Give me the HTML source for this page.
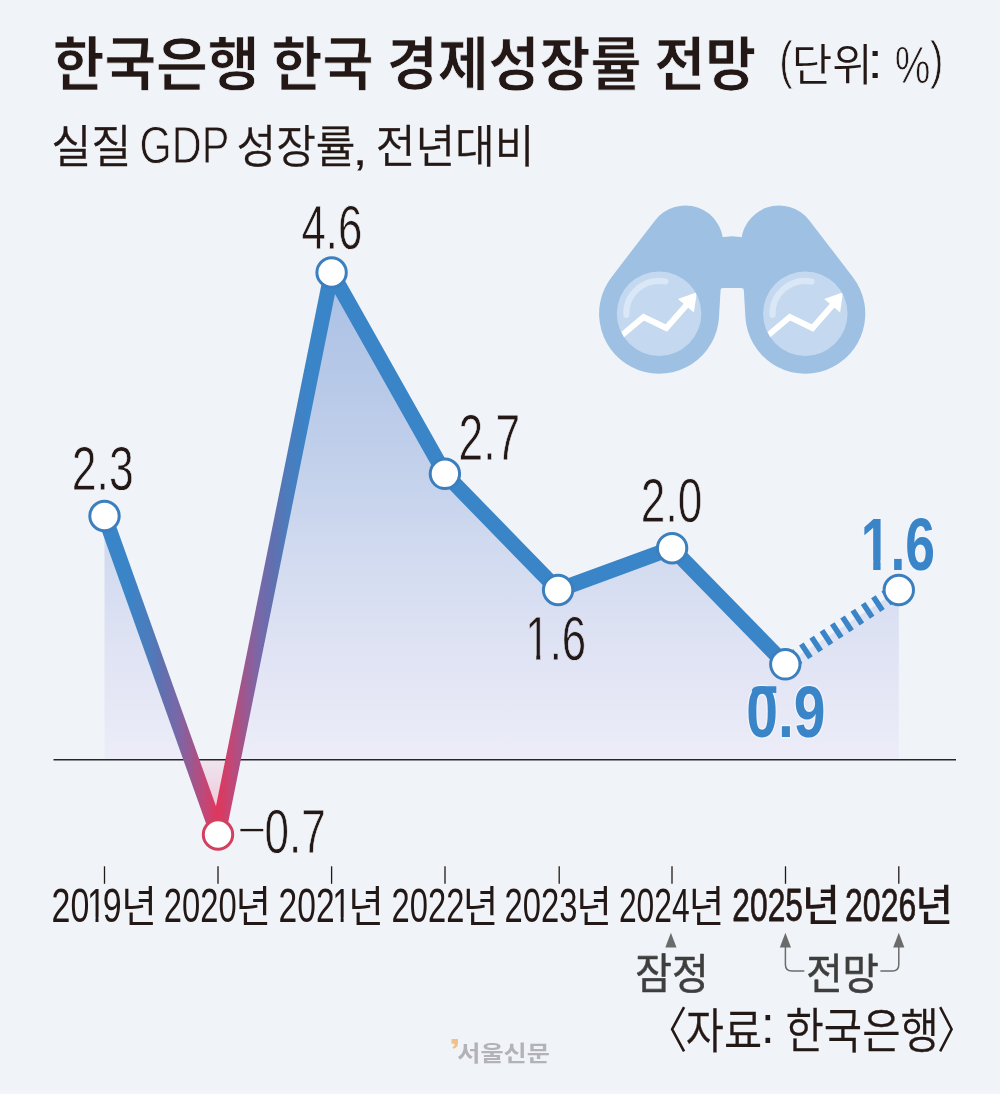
<!DOCTYPE html>
<html lang="ko"><head><meta charset="utf-8"><title>한국은행 한국 경제성장률 전망</title>
<style>html,body{margin:0;padding:0;background:#f0f4f8}body{width:1000px;height:1094px;overflow:hidden;font-family:"Liberation Sans","Noto Sans CJK KR",sans-serif}</style>
</head><body>
<svg role="img" width="1000" height="1094" viewBox="0 0 1000 1094" font-family='"Liberation Sans","Noto Sans CJK KR",sans-serif' font-size="100" style="display:block;will-change:transform">
<title>한국은행 한국 경제성장률 전망 (단위: %)</title>
<desc>실질 GDP 성장률, 전년대비. 2019년 2.3, 2020년 −0.7, 2021년 4.6, 2022년 2.7, 2023년 1.6, 2024년 2.0 (잠정), 2025년 0.9 (전망), 2026년 1.6 (전망). 〈자료: 한국은행〉 서울신문</desc>
<defs>
<linearGradient id="ga" gradientUnits="userSpaceOnUse" x1="0" y1="272" x2="0" y2="759.7">
<stop offset="0" stop-color="#aac0e5"/><stop offset="0.35" stop-color="#bfceea"/><stop offset="0.55" stop-color="#cfd9ef"/><stop offset="0.68" stop-color="#d9dff2"/><stop offset="0.85" stop-color="#e4e6f5"/><stop offset="1" stop-color="#ecedf8"/>
</linearGradient>
<linearGradient id="gn" gradientUnits="userSpaceOnUse" x1="0" y1="759.7" x2="0" y2="820">
<stop offset="0" stop-color="#eee5ef"/><stop offset="1" stop-color="#efc3d5"/>
</linearGradient>
<linearGradient id="gl" gradientUnits="userSpaceOnUse" x1="104.5" y1="0" x2="331.6" y2="0">
<stop offset="0" stop-color="#3a84c8"/><stop offset="0.104" stop-color="#3a84c8"/><stop offset="0.196" stop-color="#4c7cbc"/><stop offset="0.253" stop-color="#6070b0"/><stop offset="0.32" stop-color="#7868a8"/><stop offset="0.381" stop-color="#9a5890"/><stop offset="0.438" stop-color="#c04878"/><stop offset="0.5" stop-color="#e0365c"/>
<stop offset="0.562" stop-color="#c04878"/><stop offset="0.619" stop-color="#9a5890"/><stop offset="0.68" stop-color="#7868a8"/><stop offset="0.747" stop-color="#6070b0"/><stop offset="0.804" stop-color="#4c7cbc"/><stop offset="0.896" stop-color="#3a84c8"/><stop offset="1" stop-color="#3a84c8"/>
</linearGradient>
<clipPath id="c0"><path clip-rule="evenodd" d="M-50,-120H600V60H-50ZM3.62,-8.37H25.15V6H3.62ZM33.98,-8.37H54.73V6H33.98Z"/></clipPath><clipPath id="c1"><path clip-rule="evenodd" d="M-50,-120H600V60H-50ZM2.30,-12.61H23.34V6H2.30ZM37.06,-12.61H56.83V6H37.06Z"/></clipPath><clipPath id="c2"><path clip-rule="evenodd" d="M-50,-120H600V60H-50ZM107.65,-8.37H129.18V6H107.65ZM138.01,-8.37H158.76V6H138.01Z"/></clipPath><clipPath id="c3"><path clip-rule="evenodd" d="M-50,-120H600V60H-50ZM163.27,-8.37H184.80V6H163.27ZM193.62,-8.37H214.38V6H193.62Z"/></clipPath>
<clipPath id="lensL"><circle cx="659.1" cy="313.7" r="42.25"/></clipPath>
<clipPath id="lensR"><circle cx="805.3" cy="313.7" r="42.25"/></clipPath>
</defs>
<rect width="1000" height="1094" fill="#f0f4f8"/>
<rect y="1092.4" width="1000" height="1.6" fill="#f7f4f6"/>
<rect y="1090.5" width="1000" height="2" fill="#f2f4f8"/>

<polygon points="104.5,759.7 104.5,516.0 191.3,759.7" fill="url(#ga)"/>
<polygon points="233.1,759.7 331.6,272.5 444.9,473.8 558.1,590.0 672.1,548.2 785.3,664.3 898.8,590.0 898.8,759.7" fill="url(#ga)"/>
<polygon points="191.3,759.7 218.0,834.5 233.1,759.7" fill="url(#gn)"/>
<line x1="53.5" y1="759.7" x2="956" y2="759.7" stroke="#2b2424" stroke-width="1.6"/>
<line x1="104.5" y1="516" x2="218" y2="834.5" stroke="url(#gl)" stroke-width="15.2" />
<line x1="218" y1="834.5" x2="331.6" y2="272.5" stroke="url(#gl)" stroke-width="15.2" />
<polyline points="331.6,272.5 444.9,473.8 558.1,590.0 672.1,548.2 785.3,664.3" fill="none" stroke="#3a84c8" stroke-width="15.2" stroke-linejoin="round"/>
<line x1="785.3" y1="664.3" x2="898.8" y2="590" stroke="#3a84c8" stroke-width="16.5" stroke-dasharray="5.5 6.8" stroke-dashoffset="-9.55"/>
<circle cx="104.5" cy="516" r="14.7" fill="#fff" stroke="#3c7fbe" stroke-width="3.0"/>
<circle cx="218" cy="834.5" r="14.7" fill="#fff" stroke="#d33f5f" stroke-width="3.0"/>
<circle cx="331.6" cy="272.5" r="14.7" fill="#fff" stroke="#3c7fbe" stroke-width="3.0"/>
<circle cx="444.9" cy="473.8" r="14.7" fill="#fff" stroke="#3c7fbe" stroke-width="3.0"/>
<circle cx="558.1" cy="590" r="14.7" fill="#fff" stroke="#3c7fbe" stroke-width="3.0"/>
<circle cx="672.1" cy="548.2" r="14.7" fill="#fff" stroke="#3c7fbe" stroke-width="3.0"/>
<circle cx="785.3" cy="664.3" r="14.7" fill="#fff" stroke="#3c7fbe" stroke-width="3.0"/>
<circle cx="898.8" cy="590" r="14.7" fill="#fff" stroke="#3c7fbe" stroke-width="3.0"/>
<line x1="104.5" y1="866.3" x2="104.5" y2="883.8" stroke="#231815" stroke-width="1.3"/>
<line x1="218" y1="866.3" x2="218" y2="883.8" stroke="#231815" stroke-width="1.3"/>
<line x1="331.6" y1="866.3" x2="331.6" y2="883.8" stroke="#231815" stroke-width="1.3"/>
<line x1="445" y1="866.3" x2="445" y2="883.8" stroke="#231815" stroke-width="1.3"/>
<line x1="559.2" y1="866.3" x2="559.2" y2="883.8" stroke="#231815" stroke-width="1.3"/>
<line x1="672" y1="866.3" x2="672" y2="883.8" stroke="#231815" stroke-width="1.3"/>
<line x1="785.5" y1="866.3" x2="785.5" y2="883.8" stroke="#231815" stroke-width="1.3"/>
<line x1="898.8" y1="866.3" x2="898.8" y2="883.8" stroke="#231815" stroke-width="1.3"/>
<polygon points="670.9,932.8 665.3,947.5 676.5,947.5" fill="#6b6b6b"/>
<polygon points="785.4,932.8 779.8,947.5 791.0,947.5" fill="#6b6b6b"/>
<polygon points="898.8,932.8 893.1999999999999,947.5 904.4,947.5" fill="#6b6b6b"/>
<path d="M785.4,947 V964.4 Q785.4,970.9 791.9,970.9 H804.3" fill="none" stroke="#6b6b6b" stroke-width="1.5"/>
<path d="M898.8,947 V964.4 Q898.8,970.9 892.3,970.9 H880.4" fill="none" stroke="#6b6b6b" stroke-width="1.5"/>
<path d="M655.04,220.38 A38.0,38.0 0 0 1 723.14,245.70 L719.00,317.17 A60.0,60.0 0 1 1 611.48,277.19 Z" fill="#9ec0e2"/>
<path d="M741.26,245.70 A38.0,38.0 0 0 1 809.36,220.38 L852.92,277.19 A60.0,60.0 0 1 1 745.40,317.17 Z" fill="#9ec0e2"/>
<path d="M715,239 Q732.2,233.6 749,239 V288 H715 Z" fill="#9ec0e2"/>
<path d="M720.2,288 h3 a3,3 0 0 0 -3,3 z M743.6,288 h-3 a3,3 0 0 1 3,3 z" fill="#9ec0e2"/>
<circle cx="659.1" cy="313.7" r="42.25" fill="#c4d9ef"/><path d="M626.32,314.84 A32.8,32.8 0 0 1 665.36,281.50" fill="none" stroke="#d9e7f6" stroke-width="6.2" stroke-linecap="round"/><g clip-path="url(#lensL)"><polyline points="618.00,338.6 643.60,317 666.30,328 687.00,304.5" fill="none" stroke="#fff" stroke-width="5.9" stroke-linejoin="miter"/><polygon points="696.85,292.25 678.00,299.1 693.90,312.4" fill="#fff"/></g>
<circle cx="805.3" cy="313.7" r="42.25" fill="#c4d9ef"/><path d="M772.52,314.84 A32.8,32.8 0 0 1 811.56,281.50" fill="none" stroke="#d9e7f6" stroke-width="6.2" stroke-linecap="round"/><g clip-path="url(#lensR)"><polyline points="764.20,338.6 789.80,317 812.50,328 833.20,304.5" fill="none" stroke="#fff" stroke-width="5.9" stroke-linejoin="miter"/><polygon points="843.05,292.25 824.20,299.1 840.10,312.4" fill="#fff"/></g>
<path d="M451.5,1039 h6.5 v4.2 q0,4.2 -4.8,5.6 l-0.8,-1.6 q2.4,-1 2.4,-3.4 h-3.3 z" fill="#f0c189"/>
<text transform="matrix(0.5621 0 0 0.5761 52.69 84.82)" font-weight="700" fill="#231815" stroke="#f0f4f8" stroke-width="1.3">한국은행</text>
<text transform="matrix(0.5546 0 0 0.5761 271.48 84.82)" font-weight="700" fill="#231815" stroke="#f0f4f8" stroke-width="1.3">한국</text>
<text transform="matrix(0.5540 0 0 0.5761 386.68 84.82)" font-weight="700" fill="#231815" stroke="#f0f4f8" stroke-width="1.3">경제성장률</text>
<text transform="matrix(0.5540 0 0 0.5761 654.23 84.82)" font-weight="700" fill="#231815" stroke="#f0f4f8" stroke-width="1.3">전망</text>
<text transform="matrix(0.4022 0 0 0.5163 779.18 78.42)" font-weight="350" fill="#231815" stroke="#f0f4f8" stroke-width="1.6">(</text>
<text transform="matrix(0.4394 0 0 0.4473 791.86 81.02)" font-weight="350" fill="#231815" >단위</text>
<text transform="matrix(0.5500 0 0 0.5047 867.55 78.00)" font-weight="350" fill="#231815" >:</text>
<text transform="matrix(0.4012 0 0 0.5221 894.65 82.50)" font-weight="350" fill="#231815" stroke="#f0f4f8" stroke-width="1.6">%</text>
<text transform="matrix(0.4022 0 0 0.5163 930.04 78.42)" font-weight="350" fill="#231815" stroke="#f0f4f8" stroke-width="1.6">)</text>
<text transform="matrix(0.4360 0 0 0.4516 51.13 162.54)" font-weight="350" fill="#231815" stroke="#231815" stroke-width="0.7">실질</text>
<text transform="matrix(0.4146 0 0 0.5130 139.51 163.40)" font-weight="350" fill="#231815" stroke="#f0f4f8" stroke-width="1.6">GDP</text>
<text transform="matrix(0.4310 0 0 0.4516 236.59 162.54)" font-weight="350" fill="#231815" stroke="#231815" stroke-width="0.7">성장률</text>
<text transform="matrix(0.5600 0 0 0.4375 352.36 165.31)" font-weight="350" fill="#231815" >,</text>
<text transform="matrix(0.4320 0 0 0.4516 375.64 162.54)" font-weight="350" fill="#231815" stroke="#231815" stroke-width="0.7">전년대비</text>
<text transform="matrix(0.4453 0 0 0.6304 71.78 490.25)" font-weight="400" fill="#231815" stroke="#f0f4f8" stroke-width="1.2">2.3</text>
<text transform="matrix(0.4704 0 0 0.3286 237.65 841.06)" font-weight="400" fill="#231815" >−</text>
<text transform="matrix(0.4406 0 0 0.6333 264.60 852.70)" font-weight="400" fill="#231815" stroke="#f0f4f8" stroke-width="1.2">0.7</text>
<text transform="matrix(0.4366 0 0 0.6348 301.49 248.50)" font-weight="400" fill="#231815" stroke="#f0f4f8" stroke-width="1.2">4.6</text>
<text transform="matrix(0.4429 0 0 0.6507 458.59 459.65)" font-weight="400" fill="#231815" stroke="#f0f4f8" stroke-width="1.2">2.7</text>
<text transform="matrix(0.4379 0 0 0.6304 525.32 659.50)" font-weight="400" fill="#231815" stroke="#dde1f3" stroke-width="1.2" clip-path="url(#c0)">1.6</text>
<text transform="matrix(0.4419 0 0 0.6304 640.85 522.25)" font-weight="400" fill="#231815" stroke="#f0f4f8" stroke-width="1.2">2.0</text>
<text transform="matrix(0.5702 0 0 0.7268 746.22 737.07)" font-weight="700" fill="#3a84c8" stroke="#f1f4fa" stroke-width="4" stroke-linejoin="round" paint-order="stroke">0.9</text>
<text transform="matrix(0.5344 0 0 0.7394 860.76 569.76)" font-weight="700" fill="#3a84c8" stroke="#f1f4fa" stroke-width="4" stroke-linejoin="round" paint-order="stroke" clip-path="url(#c1)">1.6</text>
<text transform="matrix(0.3398 0 0 0.4873 51.60 921.61)" font-weight="400" fill="#231815" dx="0 0 -7.2 -9.2" clip-path="url(#c2)">2019</text>
<text transform="matrix(0.3868 0 0 0.4371 121.18 921.88)" font-weight="400" fill="#231815" >년</text>
<text transform="matrix(0.3279 0 0 0.4873 163.86 921.61)" font-weight="400" fill="#231815" >2020</text>
<text transform="matrix(0.3868 0 0 0.4371 235.53 921.88)" font-weight="400" fill="#231815" >년</text>
<text transform="matrix(0.3357 0 0 0.4873 278.62 921.61)" font-weight="400" fill="#231815" dx="0 0 0 -7.2" clip-path="url(#c3)">2021</text>
<text transform="matrix(0.3868 0 0 0.4371 348.33 921.88)" font-weight="400" fill="#231815" >년</text>
<text transform="matrix(0.3271 0 0 0.4873 391.61 921.61)" font-weight="400" fill="#231815" >2022</text>
<text transform="matrix(0.3868 0 0 0.4371 462.78 921.88)" font-weight="400" fill="#231815" >년</text>
<text transform="matrix(0.3279 0 0 0.4873 504.61 921.61)" font-weight="400" fill="#231815" >2023</text>
<text transform="matrix(0.3868 0 0 0.4371 576.28 921.88)" font-weight="400" fill="#231815" >년</text>
<text transform="matrix(0.3182 0 0 0.4873 618.91 921.61)" font-weight="400" fill="#231815" >2024</text>
<text transform="matrix(0.3868 0 0 0.4371 688.78 921.88)" font-weight="400" fill="#231815" >년</text>
<text transform="matrix(0.3174 0 0 0.4644 732.33 920.67)" font-weight="400" fill="#231815" stroke="#231815" stroke-width="1.7" stroke-linejoin="round">2025</text>
<text transform="matrix(0.4123 0 0 0.4322 802.03 921.47)" font-weight="500" fill="#231815" >년</text>
<text transform="matrix(0.3198 0 0 0.4644 845.07 920.67)" font-weight="400" fill="#231815" stroke="#231815" stroke-width="1.7" stroke-linejoin="round">2026</text>
<text transform="matrix(0.4123 0 0 0.4322 915.28 921.47)" font-weight="500" fill="#231815" >년</text>
<text transform="matrix(0.3988 0 0 0.4247 635.30 988.88)" font-weight="400" fill="#3e3e3e" stroke="#3e3e3e" stroke-width="1.3" stroke-linejoin="round">잠정</text>
<text transform="matrix(0.3955 0 0 0.4247 806.22 988.88)" font-weight="400" fill="#3e3e3e" stroke="#3e3e3e" stroke-width="1.3" stroke-linejoin="round">전망</text>
<text transform="matrix(0.4114 0 0 0.4892 646.13 1047.50)" font-weight="350" fill="#231815" >〈</text>
<text transform="matrix(0.4143 0 0 0.4725 685.84 1047.72)" font-weight="350" fill="#231815" stroke="#231815" stroke-width="0.7">자료</text>
<text transform="matrix(0.4900 0 0 0.5094 760.99 1042.90)" font-weight="350" fill="#231815" >:</text>
<text transform="matrix(0.4170 0 0 0.4725 785.52 1047.72)" font-weight="350" fill="#231815" stroke="#231815" stroke-width="0.7">한국은행</text>
<text transform="matrix(0.3943 0 0 0.4892 936.93 1047.50)" font-weight="350" fill="#231815" >〉</text>
<text transform="matrix(0.2521 0 0 0.2151 457.24 1061.06)" font-weight="700" fill="#b3b3b7" >서울신문</text>
<path d="M751.6,691.5 Q752.2,686.4 758,686.2 H776.3 V693 Z" fill="#3a84c8"/>
</svg>
</body></html>
